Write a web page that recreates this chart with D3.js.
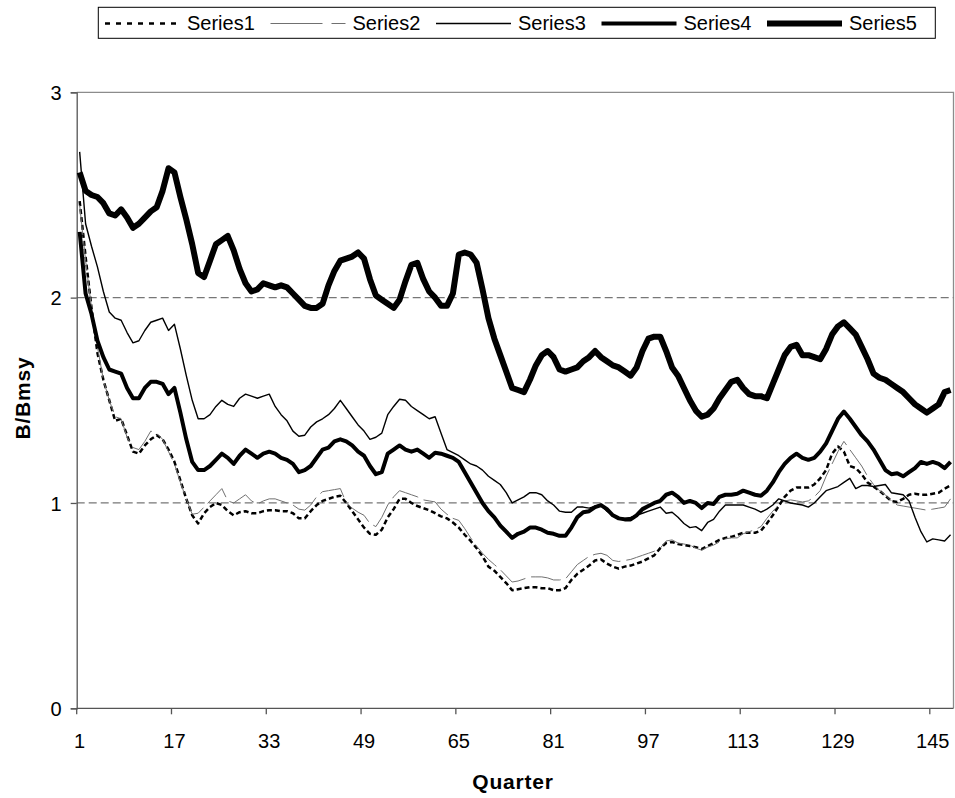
<!DOCTYPE html>
<html>
<head>
<meta charset="utf-8">
<script src="https://cdn.jsdelivr.net/npm/d3@7"></script>
<style>
  body { margin: 0; background: #fff; }
  text { font-family: "Liberation Sans", Arial, sans-serif; }
</style>
</head>
<body>
<div id="chart"></div>
<script>
// data
const quarters = d3.range(1, 149)
const xTickLabels = [1, 17, 33, 49, 65, 81, 97, 113, 129, 145]
const yTickLabels = [0, 1, 2, 3]
const refLines = [1, 2]
const seriesNames = ["Series1", "Series2", "Series3", "Series4", "Series5"]

const series1 = [
  2.47, 2.20, 1.95, 1.73, 1.60, 1.50, 1.40, 1.41, 1.33, 1.25,
  1.24, 1.28, 1.31, 1.33, 1.31, 1.26, 1.20, 1.11, 1.02, 0.94,
  0.90, 0.95, 0.98, 1.00, 0.99, 0.96, 0.94, 0.955, 0.96, 0.95,
  0.95, 0.96, 0.965, 0.965, 0.96, 0.96, 0.95, 0.925, 0.925, 0.96,
  0.99, 1.01, 1.02, 1.03, 1.035, 1.00, 0.96, 0.92, 0.88, 0.85,
  0.845, 0.87, 0.93, 0.97, 1.02, 1.02, 1.00, 0.985, 0.975, 0.965,
  0.95, 0.935, 0.925, 0.905, 0.88, 0.845, 0.815, 0.78, 0.74, 0.69,
  0.67, 0.64, 0.61, 0.575, 0.58, 0.585, 0.59, 0.59, 0.585, 0.585,
  0.575, 0.575, 0.585, 0.625, 0.655, 0.675, 0.695, 0.72, 0.725, 0.705,
  0.69, 0.68, 0.69, 0.695, 0.705, 0.715, 0.73, 0.745, 0.78, 0.805,
  0.81, 0.80, 0.795, 0.79, 0.785, 0.775, 0.79, 0.805, 0.82, 0.83,
  0.835, 0.845, 0.855, 0.855, 0.855, 0.865, 0.90, 0.94, 0.985, 1.03,
  1.06, 1.075, 1.075, 1.075, 1.09, 1.12, 1.16, 1.24, 1.275, 1.25,
  1.18, 1.17, 1.14, 1.10, 1.08, 1.06, 1.035, 1.01, 1.005, 1.02,
  1.04, 1.045, 1.04, 1.04, 1.045, 1.05, 1.07, 1.085
]

const series2 = [
  2.45, 2.18, 1.95, 1.76, 1.60, 1.50, 1.42, 1.41, 1.32, 1.27,
  1.26, 1.30, 1.35, 1.34, 1.31, 1.25, 1.19, 1.10, 1.02, 0.945,
  0.95, 0.98, 1.01, 1.04, 1.07, 1.01, 1.00, 1.02, 1.04, 1.01,
  0.995, 1.01, 1.02, 1.02, 1.01, 1.00, 0.99, 0.97, 0.965, 0.99,
  1.03, 1.055, 1.06, 1.065, 1.07, 1.00, 0.975, 0.955, 0.94, 0.90,
  0.885, 0.93, 0.99, 1.03, 1.06, 1.05, 1.04, 1.03, 1.015, 1.01,
  1.005, 0.97, 0.945, 0.925, 0.915, 0.875, 0.83, 0.79, 0.755, 0.725,
  0.70, 0.675, 0.645, 0.615, 0.62, 0.63, 0.64, 0.64, 0.64, 0.635,
  0.625, 0.625, 0.63, 0.665, 0.70, 0.72, 0.74, 0.75, 0.755, 0.745,
  0.72, 0.715, 0.72, 0.725, 0.735, 0.745, 0.755, 0.765, 0.78, 0.815,
  0.82, 0.805, 0.80, 0.795, 0.78, 0.77, 0.785, 0.795, 0.81, 0.825,
  0.83, 0.83, 0.85, 0.86, 0.87, 0.885, 0.925, 0.96, 0.99, 1.01,
  1.015, 1.01, 1.005, 1.01, 1.03, 1.06, 1.13, 1.19, 1.25, 1.30,
  1.26, 1.22, 1.18, 1.13, 1.09, 1.06, 1.04, 1.01, 0.99, 0.985,
  0.98, 0.975, 0.97, 0.965, 0.97, 0.975, 0.98, 1.02
]

const series3 = [
  2.71, 2.36, 2.25, 2.15, 2.03, 1.93, 1.90, 1.89, 1.83, 1.78,
  1.79, 1.84, 1.88, 1.89, 1.90, 1.84, 1.87, 1.75, 1.62, 1.50,
  1.41, 1.41, 1.43, 1.47, 1.50, 1.48, 1.47, 1.51, 1.53, 1.52,
  1.51, 1.52, 1.53, 1.47, 1.43, 1.40, 1.35, 1.325, 1.33, 1.37,
  1.395, 1.41, 1.43, 1.46, 1.50, 1.46, 1.42, 1.38, 1.35, 1.31,
  1.32, 1.34, 1.43, 1.47, 1.505, 1.50, 1.47, 1.45, 1.43, 1.41,
  1.42, 1.34, 1.26, 1.245, 1.23, 1.21, 1.19, 1.18, 1.16, 1.13,
  1.11, 1.09, 1.05, 1.00, 1.015, 1.03, 1.05, 1.05, 1.04, 1.01,
  0.99, 0.96, 0.955, 0.955, 0.98, 0.98, 0.975, 0.985, 0.99, 0.96,
  0.94, 0.93, 0.925, 0.93, 0.94, 0.95, 0.96, 0.97, 0.98, 0.95,
  0.955, 0.93, 0.90, 0.88, 0.885, 0.865, 0.905, 0.92, 0.96, 0.99,
  0.99, 0.99, 0.99, 0.98, 0.97, 0.955, 0.97, 0.99, 1.02, 1.01,
  1.00, 0.995, 0.99, 0.98, 1.00, 1.03, 1.06, 1.07, 1.08, 1.10,
  1.12, 1.07, 1.085, 1.085, 1.08, 1.085, 1.09, 1.05, 1.045, 1.04,
  1.01, 0.93, 0.86, 0.81, 0.825, 0.82, 0.815, 0.845
]

const series4 = [
  2.32, 2.02, 1.92, 1.79, 1.71, 1.65, 1.64, 1.63, 1.56, 1.51,
  1.51, 1.56, 1.59, 1.59, 1.58, 1.53, 1.56, 1.44, 1.31, 1.20,
  1.16, 1.16, 1.18, 1.21, 1.24, 1.22, 1.19, 1.23, 1.26, 1.24,
  1.22, 1.24, 1.25, 1.24, 1.22, 1.21, 1.19, 1.15, 1.16, 1.18,
  1.22, 1.26, 1.27, 1.30, 1.31, 1.30, 1.28, 1.25, 1.23, 1.18,
  1.14, 1.15, 1.24, 1.26, 1.28, 1.26, 1.25, 1.26, 1.24, 1.22,
  1.245, 1.24, 1.23, 1.22, 1.20, 1.15, 1.10, 1.05, 1.00, 0.96,
  0.93, 0.89, 0.86, 0.83, 0.85, 0.86, 0.88, 0.88, 0.87, 0.855,
  0.85, 0.84, 0.84, 0.88, 0.93, 0.955, 0.96, 0.98, 0.99, 0.97,
  0.94, 0.925, 0.92, 0.92, 0.94, 0.97, 0.985, 1.00, 1.01, 1.04,
  1.05, 1.03, 1.00, 1.01, 1.00, 0.975, 1.00, 0.995, 1.03, 1.04,
  1.04, 1.045, 1.06, 1.05, 1.04, 1.035, 1.06, 1.10, 1.15, 1.19,
  1.22, 1.24, 1.22, 1.21, 1.22, 1.25, 1.29, 1.35, 1.41, 1.445,
  1.41, 1.37, 1.33, 1.30, 1.26, 1.21, 1.16, 1.14, 1.145, 1.13,
  1.15, 1.17, 1.20, 1.19, 1.20, 1.19, 1.17, 1.20
]

const series5 = [
  2.61, 2.52, 2.50, 2.49, 2.46, 2.41, 2.40, 2.43, 2.39, 2.34,
  2.36, 2.39, 2.42, 2.44, 2.52, 2.63, 2.61, 2.49, 2.38, 2.26,
  2.12, 2.10, 2.18, 2.26, 2.28, 2.30, 2.23, 2.14, 2.07, 2.03,
  2.04, 2.07, 2.06, 2.05, 2.06, 2.05, 2.02, 1.99, 1.96, 1.95,
  1.95, 1.97, 2.06, 2.13, 2.18, 2.19, 2.20, 2.22, 2.19, 2.09,
  2.01, 1.99, 1.97, 1.95, 1.99, 2.08, 2.16, 2.17, 2.09, 2.03,
  2.00, 1.96, 1.96, 2.02, 2.21, 2.22, 2.21, 2.17, 2.04, 1.90,
  1.80, 1.72, 1.64, 1.56, 1.55, 1.54, 1.60, 1.67, 1.72, 1.74,
  1.71, 1.65, 1.64, 1.65, 1.66, 1.69, 1.71, 1.74, 1.71, 1.69,
  1.67, 1.66, 1.64, 1.62, 1.66, 1.74, 1.80, 1.81, 1.81, 1.74,
  1.66, 1.62, 1.56, 1.50, 1.45, 1.42, 1.43, 1.46, 1.51, 1.55,
  1.59, 1.60, 1.56, 1.53, 1.52, 1.52, 1.51, 1.58, 1.65, 1.72,
  1.76, 1.77, 1.72, 1.72, 1.71, 1.70, 1.75, 1.82, 1.86, 1.88,
  1.85, 1.82, 1.76, 1.70, 1.63, 1.61, 1.60, 1.58, 1.56, 1.54,
  1.51, 1.48, 1.46, 1.44, 1.46, 1.48, 1.54, 1.55
]

const allSeries = [series1, series2, series3, series4, series5]

// line looks per series
const looks = [
  { color: "#000", width: 2.5, dash: "5,3", legendDash: "5,6" },
  { color: "#707070", width: 1, dash: "30,6", legendDash: "52,9" },
  { color: "#000", width: 1.4, dash: null, legendDash: null },
  { color: "#000", width: 4, dash: null, legendDash: null },
  { color: "#000", width: 6, dash: null, legendDash: null }
]

const w = 955
const h = 798
const plotLeft = 76.7
const plotRight = 953.5
const plotTop = 92.3
const plotBottom = 708.3

const svg = d3.select("#chart")
  .append("svg")
  .attr("width", w)
  .attr("height", h)

const xScale = d3.scaleBand()
  .domain(quarters)
  .range([plotLeft, plotRight])
  .padding(0)

const yScale = d3.scaleLinear()
  .domain([0, 3])
  .range([plotBottom, plotTop])

const xMid = q => xScale(q) + xScale.bandwidth() / 2

// plot border (top + right)
svg.append("path")
  .attr("d", `M${plotLeft},${plotTop}H${plotRight}V${plotBottom}`)
  .attr("fill", "none")
  .attr("stroke", "#8c8c8c")
  .attr("stroke-width", 1.3)

// dashed reference lines
svg.selectAll(".ref")
  .data(refLines)
  .join("line")
  .attr("class", "ref")
  .attr("x1", plotLeft)
  .attr("x2", plotRight)
  .attr("y1", d => yScale(d))
  .attr("y2", d => yScale(d))
  .attr("stroke", "#777")
  .attr("stroke-width", 1.3)
  .attr("stroke-dasharray", "8,4")

// y axis
const yAxis = d3.axisLeft(yScale)
  .tickValues(yTickLabels)
  .tickSize(6)
  .tickFormat(d3.format("d"))

const yG = svg.append("g")
  .attr("transform", `translate(${plotLeft},0)`)
  .call(yAxis)
yG.select(".domain").attr("stroke", "#555").attr("stroke-width", 1.3)
yG.selectAll(".tick line").attr("stroke", "#555").attr("stroke-width", 1.3)
yG.selectAll(".tick text")
  .attr("x", -15)
  .attr("dy", "0.36em")
  .attr("font-size", 20)
  .attr("fill", "#000")
  .style("font-family", '"Liberation Sans", Arial, sans-serif')

// x axis: ticks on category boundaries, labels centered in category
const xAxis = d3.axisBottom(xScale)
  .tickValues(xTickLabels)
  .tickSize(6)
  .tickFormat(d => d)

const xG = svg.append("g")
  .attr("transform", `translate(0,${plotBottom})`)
  .call(xAxis)
xG.select(".domain")
  .attr("d", `M${plotLeft},0H${plotRight}`)
  .attr("stroke", "#555")
  .attr("stroke-width", 1.3)
xG.selectAll(".tick")
  .attr("transform", d => `translate(${xScale(d)},0)`)
xG.selectAll(".tick line").attr("stroke", "#555").attr("stroke-width", 1.3)
xG.selectAll(".tick text")
  .attr("x", xScale.bandwidth() / 2)
  .attr("y", 40)
  .attr("dy", 0)
  .attr("font-size", 20)
  .attr("fill", "#000")
  .style("font-family", '"Liberation Sans", Arial, sans-serif')

// axis titles
svg.append("text")
  .attr("x", 513)
  .attr("y", 789)
  .attr("text-anchor", "middle")
  .attr("font-size", 21)
  .attr("font-weight", "bold")
  .attr("letter-spacing", 0.8)
  .text("Quarter")

svg.append("text")
  .attr("transform", "translate(30,398) rotate(-90)")
  .attr("text-anchor", "middle")
  .attr("font-size", 21)
  .attr("font-weight", "bold")
  .attr("letter-spacing", 0.8)
  .text("B/Bmsy")

// series lines
const line = d3.line()
  .x((d, i) => xMid(quarters[i]))
  .y(d => yScale(d))

svg.selectAll(".series")
  .data(allSeries)
  .join("path")
  .attr("class", "series")
  .attr("d", d => line(d))
  .attr("fill", "none")
  .attr("stroke", (d, i) => looks[i].color)
  .attr("stroke-width", (d, i) => looks[i].width)
  .attr("stroke-dasharray", (d, i) => looks[i].dash)
  .attr("stroke-linejoin", "round")

// legend
const legend = svg.append("g").attr("class", "legend")

legend.append("rect")
  .attr("x", 98.3)
  .attr("y", 7.3)
  .attr("width", 837)
  .attr("height", 31)
  .attr("fill", "#fff")
  .attr("stroke", "#000")
  .attr("stroke-width", 1)

const legendItem = legend.selectAll(".legend-item")
  .data(seriesNames)
  .join("g")
  .attr("class", "legend-item")
  .attr("transform", (d, i) => `translate(${105 + i * 165.5},0)`)

legendItem.append("line")
  .attr("x1", 0)
  .attr("x2", 75)
  .attr("y1", 23.5)
  .attr("y2", 23.5)
  .attr("stroke", (d, i) => looks[i].color)
  .attr("stroke-width", (d, i) => looks[i].width)
  .attr("stroke-dasharray", (d, i) => looks[i].legendDash)

legendItem.append("text")
  .attr("x", 82)
  .attr("y", 29.5)
  .attr("font-size", 20)
  .text(d => d)
</script>
</body>
</html>
